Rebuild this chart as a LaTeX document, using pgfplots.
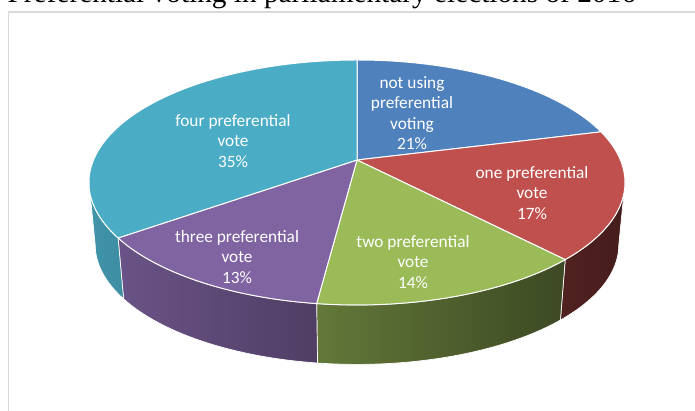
\documentclass[border=0pt]{standalone}
\usepackage{pgfplots}
\pgfplotsset{compat=1.18}
\usepackage{pgfplotstable}
\usepackage{fontspec}
\setmainfont{Liberation Serif}
\newfontfamily\lab{Carlito}

\definecolor{c0}{HTML}{4F81BD}
\definecolor{c1}{HTML}{C0504D}
\definecolor{c2}{HTML}{9BBB59}
\definecolor{c3}{HTML}{8064A2}
\definecolor{c4}{HTML}{4BACC6}
\colorlet{l0}{c0!80!black}\colorlet{r0}{c0!60!black}
\colorlet{l1}{c1!42!black}\colorlet{r1}{c1!36!black}
\colorlet{l2}{c2!64!black}\colorlet{r2}{c2!39!black}
\colorlet{l3}{c3!83!black}\colorlet{r3}{c3!62!black}
\colorlet{l4}{c4!86!black}\colorlet{r4}{c4!82!black}
\definecolor{framegray}{HTML}{D9D9D9}

\pgfplotstableread[col sep=comma]{
slice,value
not using preferential voting,21
one preferential vote,17
two preferential vote,14
three preferential vote,13
four preferential vote,35
}\piedata

% geometry of the 3D pie (1 unit = 1 pt = 1 px of the reference)
\def\CX{357}\def\CY{228.5}\def\RX{268}\def\RY{122.5}% top rim ellipse
\def\AX{357}\def\AY{251}% apex (centre of the pie seen in perspective)
\def\BY{166.3}\def\BRX{261.8}\def\BRY{119.7}% bottom rim ellipse

% slice angles from the data (computed in the preamble: no stray spaces)
\pgfmathsetmacro\K{(\AY-\CY)/\RY}
\pgfmathsetmacro\Q{sqrt(1-\K*\K)}
\xdef\cum{0}
\pgfplotstablegetrowsof{\piedata}
\pgfmathtruncatemacro\N{\pgfplotsretval-1}
\foreach \i in {0,...,\N}{%
  \pgfplotstablegetelem{\i}{value}\of\piedata
  \pgfmathsetmacro\ts{90-3.6*\cum}%
  \pgfmathsetmacro\newcum{\cum+\pgfplotsretval}%
  \xdef\cum{\newcum}%
  \pgfmathsetmacro\te{90-3.6*\cum}%
  \pgfmathsetmacro\ps{atan2(sin(\ts)+\K,\Q*cos(\ts))}%
  \pgfmathsetmacro\ps{\ps-360*round((\ps-\ts)/360)}%
  \pgfmathsetmacro\pe{atan2(sin(\te)+\K,\Q*cos(\te))}%
  \pgfmathsetmacro\pe{\pe-360*round((\pe-\te)/360)}%
  \pgfmathsetmacro\tx{\CX+\RX*cos(\ps)}%
  \pgfmathsetmacro\ty{\CY+\RY*sin(\ps)}%
  \pgfmathsetmacro\hi{min(\ps,0)}%
  \pgfmathsetmacro\lo{max(\pe,-180)}%
  \pgfmathtruncatemacro\has{\hi>\lo}%
  \pgfmathsetmacro\sx{\CX+\RX*cos(\hi)}%
  \pgfmathsetmacro\sy{\CY+\RY*sin(\hi)}%
  \pgfmathsetmacro\bx{\CX+\BRX*cos(\lo)}%
  \pgfmathsetmacro\by{\BY+\BRY*sin(\lo)}%
  \expandafter\xdef\csname ps\i\endcsname{\ps}%
  \expandafter\xdef\csname pe\i\endcsname{\pe}%
  \expandafter\xdef\csname tx\i\endcsname{\tx}%
  \expandafter\xdef\csname ty\i\endcsname{\ty}%
  \expandafter\xdef\csname hi\i\endcsname{\hi}%
  \expandafter\xdef\csname lo\i\endcsname{\lo}%
  \expandafter\xdef\csname has\i\endcsname{\has}%
  \expandafter\xdef\csname sx\i\endcsname{\sx}%
  \expandafter\xdef\csname sy\i\endcsname{\sy}%
  \expandafter\xdef\csname bx\i\endcsname{\bx}%
  \expandafter\xdef\csname by\i\endcsname{\by}%
}

\begin{document}%
\begin{tikzpicture}
\useasboundingbox (0,0) rectangle (695pt,411pt);
\clip (0,0) rectangle (695pt,411pt);
\fill[white] (0,0) rectangle (695pt,411pt);
\begin{axis}[x=1pt, y=1pt, xmin=0, xmax=695, ymin=0, ymax=411,
  hide axis, clip=false, at={(0,0)}, anchor=south west]
  \draw[framegray, line width=1.6pt] (axis cs:8.3,399.2) rectangle (axis cs:740,-30);
  \node[anchor=base west, inner sep=0pt, font=\fontsize{29.3}{35}\selectfont, text=black]
    at (axis cs:7.5,408.5) {Preferential voting in parliamentary elections of 2016};
  % side walls
  \pgfplotsinvokeforeach{0,...,\N}{
    \ifnum\csname has#1\endcsname=1
    \path[left color=l#1, right color=r#1, draw=white, line width=0.7pt, line join=round]
      (axis cs:\csname sx#1\endcsname,\csname sy#1\endcsname)
      arc[start angle=\csname hi#1\endcsname, end angle=\csname lo#1\endcsname, x radius=\RX pt, y radius=\RY pt]
      -- (axis cs:\csname bx#1\endcsname,\csname by#1\endcsname)
      arc[start angle=\csname lo#1\endcsname, end angle=\csname hi#1\endcsname, x radius=\BRX pt, y radius=\BRY pt]
      -- cycle;
    \fi
  }
  % top faces
  \pgfplotsinvokeforeach{0,...,\N}{
    \path[fill=c#1, draw=white, line width=1pt, line join=round]
      (axis cs:\AX,\AY) -- (axis cs:\csname tx#1\endcsname,\csname ty#1\endcsname)
      arc[start angle=\csname ps#1\endcsname, end angle=\csname pe#1\endcsname, x radius=\RX pt, y radius=\RY pt]
      -- cycle;
  }
  % data labels
  \begin{scope}[every node/.style={text=white, align=center, inner sep=0pt,
      font=\lab\fontsize{17.3}{20.4}\selectfont}]
  \node at (axis cs:412,298) {not using\\preferential\\voting\\21\%};
  \node at (axis cs:532,218) {one preferential\\vote\\17\%};
  \node at (axis cs:413,149) {two preferential\\vote\\14\%};
  \node at (axis cs:237,154) {three preferential\\vote\\13\%};
  \node at (axis cs:233,270) {four preferential\\vote\\35\%};
  \end{scope}
\end{axis}
\end{tikzpicture}%
\end{document}
